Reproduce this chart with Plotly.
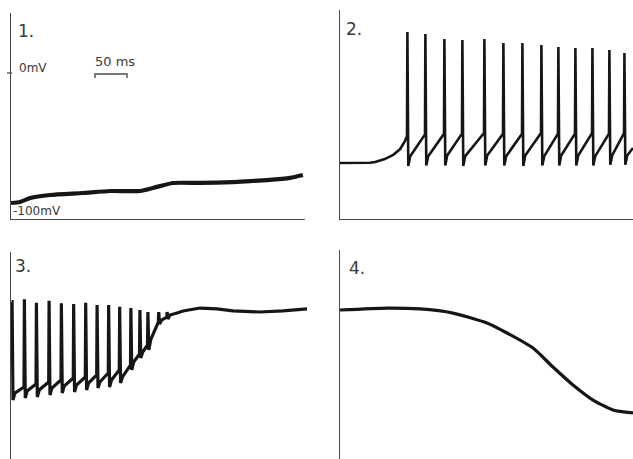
import plotly.graph_objects as go

# ---------------- data (time in ms, membrane potential in mV) ----------------
# Panel 1: slow depolarisation from about -100 mV
p1_t = [0, 14, 30, 61, 112, 155, 202, 222, 253, 295, 347, 400, 436, 456]
p1_v = [-98.5, -97.7, -94.7, -92.4, -90.9, -89.4, -89.4, -87.1, -83.3, -83.3, -82.6, -81.1, -79.5, -77.3]

# Panel 2: resting level, ramp and repetitive firing
p2_base_t = [0, 31, 47, 55, 70, 83, 94, 101.6]
p2_base_v = [-68.2, -68.2, -68.0, -67.4, -65.2, -62.1, -57.6, -51.5]
p2_spike_t = [104.7, 132.8, 162.5, 190.6, 225.0, 254.7, 284.4, 314.1, 340.6, 367.2, 393.8, 420.3, 443.8]
p2_pre = [-47.7, -46.5, -46.0, -46.0, -45.5, -46.0, -46.0, -45.5, -46.0, -46.0, -45.5, -46.0, -45.5]
p2_peak = [31.1, 29.5, 25.8, 25.0, 25.8, 22.7, 22.7, 21.2, 19.7, 18.9, 18.9, 17.4, 15.2]
p2_trough = [-70.5, -70.0, -70.0, -70.5, -70.0, -70.0, -70.5, -70.0, -70.0, -70.0, -70.0, -69.5, -69.5]
p2_rebound = [-63.0, -63.0, -62.5, -63.0, -62.5, -63.0, -62.5, -63.0, -62.5, -62.5, -63.0, -62.5, -62.5]
p2_end_t, p2_end_v = 457.8, -56.8

# Panel 3: firing with declining amplitude, then depolarisation block
p3_spike_t = [1.1, 20.3, 39.1, 58.9, 78.1, 97.3, 116.1, 133.9, 152.0, 169.2, 186.7, 200.8, 213.3, 230.2, 243.3]
p3_pre = [None, -56.8, -54.5, -53.0, -51.5, -50.0, -49.2, -47.7, -46.2, -43.9, -40.2, -31.8, -25.0, -7.6, -3.8]
p3_peak = [7.8, 9.6, 7.0, 8.6, 6.6, 6.1, 7.0, 5.3, 5.3, 4.0, 3.0, 1.5, 0.0, 0.0, 0.0]
p3_trough = [-66.7, -65.2, -64.4, -62.9, -61.4, -60.6, -59.1, -57.6, -56.8, -53.8, -43.9, -34.8, -28.8, -9.1, -5.3]
p3_rebound = [-61.4, -59.8, -59.1, -57.6, -56.1, -55.3, -53.8, -53.0, -51.5, -49.2, -37.9, -30.3, -21.0, -6.1, -2.3]
p3_tail_t = [248.4, 259.4, 268.8, 295.3, 321.9, 346.9, 389.0, 425.0, 462.5]
p3_tail_v = [-2.3, -0.8, 0.8, 3.0, 2.3, 0.8, 0.0, 0.8, 2.3]

# Panel 4: plateau followed by repolarisation
p4_t = [0, 73.4, 125.0, 176.6, 229.7, 260.9, 301.6, 332.8, 364.0, 395.3, 426.6, 457.8]
p4_v = [1.5, 3.0, 2.3, -0.8, -8.3, -15.9, -27.3, -41.7, -55.3, -66.7, -74.2, -76.5]

panel_labels = ["1.", "2.", "3.", "4."]
scale_ms = 50

# ---------------- geometry ----------------
W, H = 633, 459
MS_PER_PX = 50 / 32
PX_PER_MV = 1.32
# left, right, top, bottom, zero-mV pixel row
boxes = [
    (11, 305, 13, 219, 73),
    (340, 633, 10, 219, 73),
    (11, 312, 252, 459, 312),
    (340, 633, 250, 459, 312),
]
INK = "#161616"
AX = "#4a4a4a"


def build_spikes(start_t, start_v, spike_t, pre, peak, trough, rebound):
    t, v = list(start_t), list(start_v)
    for i, ts in enumerate(spike_t):
        if pre[i] is not None:
            t.append(ts)
            v.append(pre[i])
        t += [ts + 0.6, ts + 2.0, ts + 5.0]
        v += [peak[i], trough[i], rebound[i]]
    return t, v


p2_t, p2_v = build_spikes(p2_base_t, p2_base_v, p2_spike_t, p2_pre, p2_peak, p2_trough, p2_rebound)
p2_t.append(p2_end_t)
p2_v.append(p2_end_v)

p3_t, p3_v = build_spikes([], [], p3_spike_t, p3_pre, p3_peak, p3_trough, p3_rebound)
p3_t = [p3_spike_t[0] - 0.1] + p3_t
p3_v = [p3_peak[0]] + p3_v
p3_t += p3_tail_t
p3_v += p3_tail_v

fig = go.Figure()
traces = [
    (p1_t, p1_v, 4.2, "spline"),
    (p2_t, p2_v, 2.6, "linear"),
    (p3_t, p3_v, 3.2, "linear"),
    (p4_t, p4_v, 3.2, "spline"),
]
for i, (t, v, lw, shape) in enumerate(traces):
    sfx = "" if i == 0 else str(i + 1)
    fig.add_trace(go.Scatter(
        x=t, y=v, mode="lines", xaxis="x" + sfx, yaxis="y" + sfx,
        line=dict(color=INK, width=lw, shape=shape, smoothing=0.6),
        showlegend=False, hoverinfo="skip"))

layout = dict(
    width=W, height=H, margin=dict(l=0, r=0, t=0, b=0),
    paper_bgcolor="white", plot_bgcolor="rgba(0,0,0,0)",
    showlegend=False,
)
for i, (L, R, T, B, Z) in enumerate(boxes):
    sfx = "" if i == 0 else str(i + 1)
    show_x = i < 2
    layout["xaxis" + sfx] = dict(
        domain=[L / W, R / W], range=[0, (R - L) * MS_PER_PX],
        anchor="y" + sfx, showgrid=False, zeroline=False, showticklabels=False,
        ticks="", showline=show_x, linecolor=AX, linewidth=1.4, fixedrange=True)
    layout["yaxis" + sfx] = dict(
        domain=[1 - B / H, 1 - T / H], range=[-(B - Z) / PX_PER_MV, (Z - T) / PX_PER_MV],
        anchor="x" + sfx, showgrid=False, zeroline=False, showticklabels=False,
        ticks="", showline=True, linecolor=AX, linewidth=1.4, fixedrange=True)
fig.update_layout(**layout)

# scale bar (50 ms) in panel 1 data coordinates
x0 = (95 - 11) * MS_PER_PX
fig.add_shape(type="path",
              path=f"M {x0},-3.8 L {x0},-0.8 L {x0 + scale_ms},-0.8 L {x0 + scale_ms},-3.8",
              xref="x", yref="y", line=dict(color=AX, width=1.4))
# 0 mV tick
fig.add_shape(type="line", xref="paper", yref="y", x0=7 / W, x1=12 / W, y0=0, y1=0,
              line=dict(color=AX, width=1.3))

TXT = "#3a3a3a"
FONT = "DejaVu Sans"
label_pos = [(16, 31), (344, 29), (13, 266), (347, 268)]
for lab, (lx, ly) in zip(panel_labels, label_pos):
    fig.add_annotation(text=lab, x=lx / W, y=1 - ly / H, xref="paper", yref="paper",
                       xanchor="left", yanchor="middle", showarrow=False,
                       font=dict(family=FONT, size=17, color=TXT))
fig.add_annotation(text="0mV", x=17 / W, y=1 - 68 / H, xref="paper", yref="paper",
                   xanchor="left", yanchor="middle", showarrow=False,
                   font=dict(family=FONT, size=12, color=TXT))
fig.add_annotation(text=f"{scale_ms} ms", x=93 / W, y=1 - 61 / H, xref="paper", yref="paper",
                   xanchor="left", yanchor="middle", showarrow=False,
                   font=dict(family=FONT, size=13, color=TXT))
fig.add_annotation(text="-100mV", x=11 / W, y=1 - 211 / H, xref="paper", yref="paper",
                   xanchor="left", yanchor="middle", showarrow=False,
                   font=dict(family=FONT, size=12, color=TXT))

fig.write_html("out.html")
